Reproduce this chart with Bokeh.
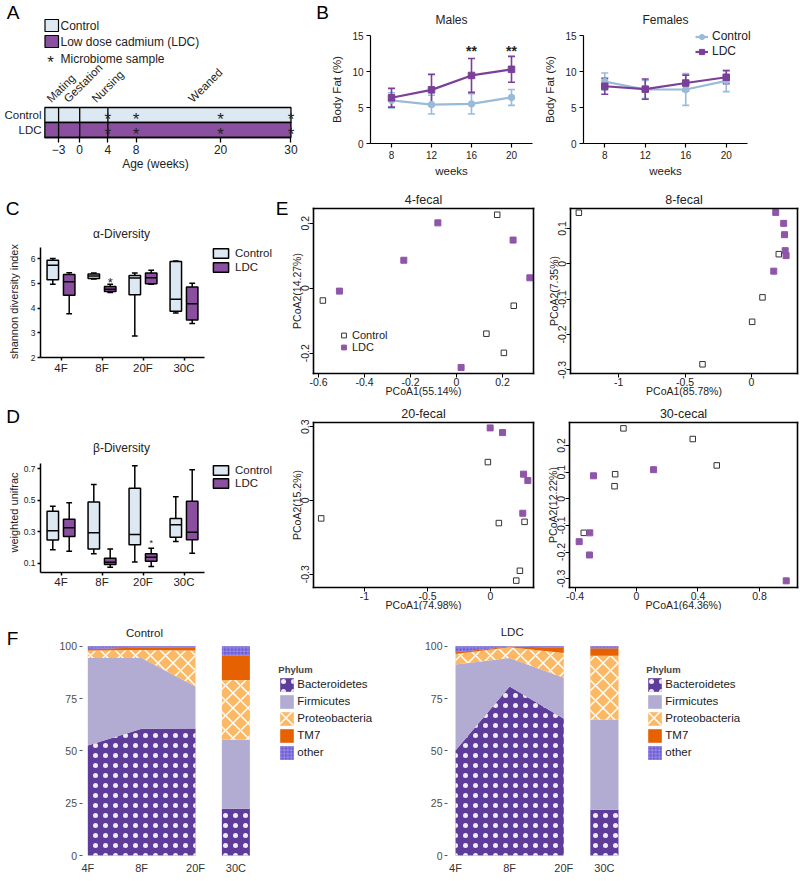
import numpy as np
from bokeh.plotting import figure
from bokeh.layouts import row, column
from bokeh.models import (Label, Legend, LegendItem, Whisker, TeeHead, ColumnDataSource,
                          LinearAxis, FixedTicker)
from bokeh.core.properties import value
from bokeh.embed import file_html
from bokeh.resources import INLINE

FONT = "Liberation Sans"
TXT = "#222222"
CTRL_FILL = "#dde9f2"
LDC_FILL = "#8b4f9f"
B_CTRL = "#98bbd8"
B_LDC = "#7a3f98"
E_LDC = "#8e55a8"

# ---------------- data ----------------
# A: study timeline
timeline_groups = ["Control", "LDC"]
timeline_start = -4.95
timeline_end = 30
age_ticks = [-3, 0, 4, 8, 20, 30]
phase_dividers = [-3, 0, 4]
phase_names = ["Mating", "Gestation", "Nursing", "Weaned"]
phase_start = [-4.4, -2.0, 2.0, 15.7]
sample_weeks = [4, 8, 20, 30]

# B: body fat (%), mean and error
weeks = [8, 12, 16, 20]
male_ctrl = [6.0, 5.4, 5.5, 6.4]
male_ctrl_err = [1.05, 1.3, 1.4, 1.1]
male_ldc = [6.35, 7.45, 9.45, 10.3]
male_ldc_err = [1.3, 2.15, 2.35, 1.8]
female_ctrl = [8.6, 7.5, 7.5, 8.7]
female_ctrl_err = [1.2, 1.25, 2.2, 1.5]
female_ldc = [7.95, 7.55, 8.4, 9.2]
female_ldc_err = [1.1, 1.4, 1.1, 0.9]
male_sig_weeks = [16, 20]
male_sig_level = 12.8

# C: alpha diversity box stats (low, q1, median, q3, high)
div_groups = ["4F", "8F", "20F", "30C"]
alpha_ctrl_low = [4.96, 5.18, 2.87, 3.80]
alpha_ctrl_q1 = [5.15, 5.20, 4.54, 3.87]
alpha_ctrl_med = [5.73, 5.30, 5.22, 4.36]
alpha_ctrl_q3 = [5.93, 5.38, 5.32, 5.88]
alpha_ctrl_high = [6.00, 5.42, 5.42, 5.90]
alpha_ldc_low = [3.77, 4.63, 4.96, 3.38]
alpha_ldc_q1 = [4.52, 4.67, 4.98, 3.52]
alpha_ldc_med = [5.06, 4.76, 5.23, 4.17]
alpha_ldc_q3 = [5.36, 4.87, 5.42, 4.85]
alpha_ldc_high = [5.43, 4.96, 5.53, 5.00]
alpha_sig_group = 2
alpha_sig_level = 5.15

# D: beta diversity box stats
beta_ctrl_low = [0.185, 0.160, 0.108, 0.238]
beta_ctrl_q1 = [0.248, 0.190, 0.218, 0.265]
beta_ctrl_med = [0.307, 0.293, 0.282, 0.345]
beta_ctrl_q3 = [0.430, 0.490, 0.576, 0.384]
beta_ctrl_high = [0.462, 0.600, 0.720, 0.523]
beta_ldc_low = [0.176, 0.075, 0.080, 0.163]
beta_ldc_q1 = [0.270, 0.092, 0.113, 0.250]
beta_ldc_med = [0.325, 0.106, 0.138, 0.297]
beta_ldc_q3 = [0.380, 0.132, 0.160, 0.494]
beta_ldc_high = [0.485, 0.190, 0.195, 0.695]
beta_sig_group = 3
beta_sig_level = 0.245

# E: PCoA coordinates
f4_ctrl_x = [0.177, -0.581, 0.249, 0.130, 0.206]
f4_ctrl_y = [0.226, -0.038, -0.054, -0.140, -0.199]
f4_ldc_x = [-0.081, 0.246, 0.319, -0.229, -0.509, 0.020]
f4_ldc_y = [0.201, 0.148, 0.032, 0.086, -0.009, -0.244]
f8_ctrl_x = [-1.301, 0.206, 0.083, 0.005, -0.369]
f8_ctrl_y = [0.144, 0.027, -0.095, -0.164, -0.284]
f8_ldc_x = [0.183, 0.243, 0.249, 0.254, 0.261, 0.168]
f8_ldc_y = [0.145, 0.114, 0.082, 0.037, 0.023, -0.021]
f20_ctrl_x = [-1.344, -0.021, 0.066, 0.270, 0.233, 0.204]
f20_ctrl_y = [-0.073, 0.156, -0.092, -0.087, -0.286, -0.326]
f20_ldc_x = [-0.003, 0.095, 0.262, 0.296, 0.256]
f20_ldc_y = [0.295, 0.276, 0.107, 0.081, -0.052]
c30_ctrl_x = [-0.085, 0.366, 0.522, -0.139, -0.143, -0.343]
c30_ctrl_y = [0.264, 0.224, 0.125, 0.092, 0.047, -0.128]
c30_ldc_x = [-0.280, 0.111, -0.304, -0.373, -0.306, 0.974]
c30_ldc_y = [0.086, 0.109, -0.128, -0.161, -0.211, -0.308]

# F: relative abundance (%) at 4F, 8F, 20F (fecal) and 30C (cecal)
phyla = ["Bacteroidetes", "Firmicutes", "Proteobacteria", "TM7", "other"]
sample_labels = ["4F", "8F", "20F", "30C"]
ctrl_bacteroidetes = [52.5, 60.5, 60.7, 22.3]
ctrl_firmicutes = [41.9, 33.9, 20.0, 33.0]
ctrl_proteobacteria = [3.5, 3.8, 17.2, 28.6]
ctrl_tm7 = [0.8, 1.2, 1.6, 11.6]
ctrl_other = [1.3, 0.6, 0.5, 4.5]
ldc_bacteroidetes = [50.2, 80.7, 65.3, 21.8]
ldc_firmicutes = [41.0, 13.7, 19.6, 43.0]
ldc_proteobacteria = [5.1, 5.1, 11.9, 30.6]
ldc_tm7 = [0.8, 0.3, 2.4, 3.6]
ldc_other = [2.9, 0.2, 0.8, 1.0]

PHYLUM_STYLE = {
    "Bacteroidetes": dict(fill_color="#5e3c99", hatch_pattern="dot", hatch_color="white",
                          hatch_scale=10, hatch_weight=0.5, hatch_alpha=0.9),
    "Firmicutes": dict(fill_color="#b2abd2"),
    "Proteobacteria": dict(fill_color="#fdb863", hatch_pattern="diagonal_cross", hatch_color="white",
                           hatch_scale=15, hatch_weight=1.5),
    "TM7": dict(fill_color="#e66101"),
    "other": dict(fill_color="#6a5acd", hatch_pattern="cross", hatch_color="#a196f2",
                  hatch_scale=3.5, hatch_weight=0.8),
}


# ---------------- helpers ----------------
class Panel:
    """A figure whose frame fills its whole canvas; axes sit at fixed data locations."""

    def __init__(self, canvas, inner, data):
        cx0, cy0, cx1, cy1 = canvas
        ix0, iy0, ix1, iy1 = inner
        dx0, dy0, dx1, dy1 = data
        self.cx0, self.cy1 = cx0, cy1
        self.ix0, self.iy1 = ix0, iy1
        self.dx0, self.dy0, self.dx1, self.dy1 = dx0, dy0, dx1, dy1
        self.kx = (ix1 - ix0) / (dx1 - dx0)
        self.ky = (iy1 - iy0) / (dy1 - dy0)
        xr = (dx0 - (ix0 - cx0) / self.kx, dx1 + (cx1 - ix1) / self.kx)
        yr = (dy0 - (cy1 - iy1) / self.ky, dy1 + (iy0 - cy0) / self.ky)
        p = figure(width=int(round(cx1 - cx0)), height=int(round(cy1 - cy0)), x_range=xr,
                   y_range=yr, output_backend="svg", toolbar_location=None, min_border=0)
        p.grid.visible = False
        p.outline_line_color = None
        p.background_fill_color = "white"
        p.border_fill_color = "white"
        p.xaxis.fixed_location = dy0
        p.xaxis.bounds = (dx0, dx1)
        p.yaxis.fixed_location = dx0
        p.yaxis.bounds = (dy0, dy1)
        self.p = p

    def X(self, sx):
        return self.dx0 + (sx - self.ix0) / self.kx

    def Y(self, sy):
        return self.dy0 + (self.iy1 - sy) / self.ky

    def label(self, sx, sy, text, size, align="center", baseline="middle", angle=0.0,
              style="normal", color=TXT):
        self.p.add_layout(Label(x=sx - self.cx0, y=self.cy1 - sy, x_units="screen",
                                y_units="screen", text=text, text_font=FONT,
                                text_font_size=size, text_align=align, text_baseline=baseline,
                                angle=angle, text_font_style=style, text_color=color))

    def legend(self, items, sx_left, sy_top, height, gw, gh, lh, font, standoff=4,
               spacing=0, title=None):
        lg = Legend(items=items, location=(sx_left - self.cx0, self.cy1 - (sy_top + height)),
                    glyph_width=int(gw), glyph_height=int(gh), label_height=int(lh),
                    label_width=10, label_text_font=FONT, label_text_font_size=font,
                    label_text_color=TXT, label_standoff=int(standoff), spacing=int(spacing),
                    padding=0, margin=0, border_line_color=None, background_fill_alpha=0)
        if title:
            lg.title = title
            lg.title_text_font = FONT
            lg.title_text_font_style = "bold"
            lg.title_text_font_size = "9.5px"
            lg.title_standoff = 1
        self.p.add_layout(lg)


def style_axis(ax, tick_font, color=TXT, tick_out=4, standoff=2, line_width=1.0,
               line_color="black", tick_color="black"):
    ax.major_label_text_font = FONT
    ax.major_label_text_font_size = tick_font
    ax.major_label_text_color = color
    ax.minor_tick_line_color = None
    ax.major_tick_in = 0
    ax.major_tick_out = tick_out
    ax.major_label_standoff = standoff
    ax.axis_line_color = line_color
    ax.axis_line_width = line_width
    ax.major_tick_line_color = tick_color
    ax.major_tick_line_width = line_width


def fmt_overrides(ticks):
    return {t: f"{t:g}" for t in ticks}


# ---------------- A ----------------
A = Panel((0, 0, 330, 190), (44, 107, 294, 137), (-5, 0, 30.5, 2))
pA = A.p
pA.yaxis.visible = False
pA.xaxis.bounds = (timeline_start, timeline_end)
pA.xaxis.ticker = age_ticks
style_axis(pA.xaxis[0], "12px", tick_out=5, standoff=2, line_width=1.3)
n_g = len(timeline_groups)
row_y = [n_g - i - 0.5 for i in range(n_g)]
pA.hbar(y=row_y, left=timeline_start, right=timeline_end, height=1,
        fill_color=[CTRL_FILL, LDC_FILL], line_color="black", line_width=1.3)
pA.segment(x0=phase_dividers, y0=0, x1=phase_dividers, y1=n_g, line_color="black",
           line_width=1.3)
ax_x = [w for _ in row_y for w in sample_weeks]
ax_y = [y for y in row_y for _ in sample_weeks]
pA.text(x=ax_x, y=ax_y, text=["*"] * len(ax_x), text_font=value(FONT), text_font_size="17px",
        text_align="center", text_baseline="middle", y_offset=4, text_color=TXT)
pA.text(x=phase_start, y=[A.Y(100)] * len(phase_start), text=phase_names, angle=np.pi / 4,
        text_font=value(FONT), text_font_size="11.5px", text_align="left",
        text_baseline="alphabetic", text_color=TXT)
for gi, g in enumerate(timeline_groups):
    A.label(41, 137 - 15 * row_y[gi] - 0.5, g, "11.5px", align="right")
pA.quad(left=[A.X(44.5)] * 2, right=[A.X(58)] * 2, bottom=[A.Y(31), A.Y(47)],
        top=[A.Y(19), A.Y(35)], fill_color=[CTRL_FILL, LDC_FILL], line_color="black",
        line_width=1.2)
A.label(60, 25, "Control", "12px", align="left")
A.label(60, 41, "Low dose cadmium (LDC)", "12px", align="left")
A.label(60, 58, "Microbiome sample", "12px", align="left")
A.label(50, 62, "*", "17px")
A.label(155, 163, "Age (weeks)", "12px")
A.label(12.7, 12, "A", "19px", color="black")
A.label(322, 12, "B", "19px", color="black")


# ---------------- B ----------------
def bodyfat(canvas, inner, ctrl, cerr, ldc, lerr, title):
    P = Panel(canvas, inner, (5.9, 0, 22.1, 15))
    p = P.p
    p.xaxis.ticker = weeks
    p.yaxis.ticker = [0, 5, 10, 15]
    for ax in p.axis:
        style_axis(ax, "10px", tick_out=4, standoff=3, line_width=1.2)
    rends = []
    for vals, err, color, marker in [(ctrl, cerr, B_CTRL, "circle"), (ldc, lerr, B_LDC, "square")]:
        v = np.array(vals)
        e = np.array(err)
        src = ColumnDataSource(dict(x=weeks, y=v, lo=v - e, hi=v + e))
        p.add_layout(Whisker(source=src, base="x", lower="lo", upper="hi", line_color=color,
                             line_width=1.6,
                             lower_head=TeeHead(size=7, line_color=color, line_width=1.6),
                             upper_head=TeeHead(size=7, line_color=color, line_width=1.6)))
        ln = p.line("x", "y", source=src, line_color=color, line_width=2.2)
        mk = p.scatter("x", "y", source=src, marker=marker, size=6.5, fill_color=color,
                       line_color=color)
        rends.append((ln, mk))
    xc = (inner[0] + inner[2]) / 2
    P.label(xc, 19, title, "12px")
    P.label(xc, 170, "weeks", "11.5px")
    P.label(inner[0] - 33.5, (inner[1] + inner[3]) / 2, "Body Fat (%)", "11.5px",
            angle=np.pi / 2)
    return P, rends


Bm, _ = bodyfat((330, 0, 545, 190), (370, 35, 532, 143), male_ctrl, male_ctrl_err, male_ldc,
                male_ldc_err, "Males")
Bm.p.text(x=male_sig_weeks, y=[male_sig_level] * len(male_sig_weeks),
          text=["**"] * len(male_sig_weeks), text_font=value(FONT), text_font_size="14px",
          text_font_style="bold", text_align="center", text_baseline="middle", text_color=TXT)
Bf, rf = bodyfat((545, 0, 800, 190), (583, 35, 747, 143), female_ctrl, female_ctrl_err,
                 female_ldc, female_ldc_err, "Females")
Bf.legend([LegendItem(label="Control", renderers=list(rf[0])),
           LegendItem(label="LDC", renderers=list(rf[1]))],
          695, 28.5, 30, 13, 15, 15, "12px", standoff=4)


# ---------------- C / D ----------------
def box_panel(canvas, inner, yr, yticks, ylabel, title, stats_c, stats_l, sig_g, sig_y,
              sig_size, letter, letter_xy, title_y, ylabel_y, legend_top, pitch):
    P = Panel(canvas, inner, (0.5, yr[0], 4.5, yr[1]))
    p = P.p
    gx = np.arange(1, len(div_groups) + 1)
    p.xaxis.ticker = [int(g) for g in gx]
    p.xaxis.major_label_overrides = {int(g): lab for g, lab in zip(gx, div_groups)}
    p.yaxis.ticker = yticks
    style_axis(p.xaxis[0], "11.5px", tick_out=3, standoff=1, line_width=1.5)
    style_axis(p.yaxis[0], "8.5px", tick_out=3, standoff=2, line_width=1.5)
    rs = []
    for off, st, fill in [(-0.2, stats_c, CTRL_FILL), (0.2, stats_l, LDC_FILL)]:
        low, q1, med, q3, high = [np.array(s) for s in st]
        x = gx + off
        kw = dict(line_color="black", line_width=1.5)
        p.segment(x0=x, y0=low, x1=x, y1=q1, **kw)
        p.segment(x0=x, y0=q3, x1=x, y1=high, **kw)
        p.segment(x0=x - 0.07, y0=low, x1=x + 0.07, y1=low, **kw)
        p.segment(x0=x - 0.07, y0=high, x1=x + 0.07, y1=high, **kw)
        r = p.vbar(x=x, bottom=q1, top=q3, width=0.28, fill_color=fill, **kw)
        p.segment(x0=x - 0.14, y0=med, x1=x + 0.14, y1=med, **kw)
        rs.append(r)
    p.text(x=[sig_g + 0.2], y=[sig_y], text=["*"], text_font=value(FONT),
           text_font_size=sig_size, text_align="center", text_baseline="middle", y_offset=3,
           text_color=TXT)
    P.legend([LegendItem(label="Control", renderers=[rs[0]]),
              LegendItem(label="LDC", renderers=[rs[1]])],
             211, legend_top, 2 * pitch, 19, 12, pitch, "11.5px", standoff=5)
    P.label(letter_xy[0], letter_xy[1], letter, "19px", color="black")
    P.label(121, title_y, title, "12px")
    P.label(13.5, ylabel_y, ylabel, "11px", angle=np.pi / 2)
    return P


C = box_panel((0, 190, 275, 400), (40, 247, 204, 357), (2, 6.45), [2, 3, 4, 5, 6],
              "shannon diversity index", "α-Diversity",
              [alpha_ctrl_low, alpha_ctrl_q1, alpha_ctrl_med, alpha_ctrl_q3, alpha_ctrl_high],
              [alpha_ldc_low, alpha_ldc_q1, alpha_ldc_med, alpha_ldc_q3, alpha_ldc_high],
              alpha_sig_group, alpha_sig_level, "13px", "C", (12, 208), 233, 301, 246, 14)
D = box_panel((0, 400, 275, 610), (40, 463, 204, 571.7), (0.043, 0.734), [0.1, 0.3, 0.5, 0.7],
              "weighted unifrac", "β-Diversity",
              [beta_ctrl_low, beta_ctrl_q1, beta_ctrl_med, beta_ctrl_q3, beta_ctrl_high],
              [beta_ldc_low, beta_ldc_q1, beta_ldc_med, beta_ldc_q3, beta_ldc_high],
              beta_sig_group, beta_sig_level, "9px", "D", (12.5, 416), 447, 512, 463.5, 13)


# ---------------- E ----------------
def pcoa(canvas, inner, data, xt, yt, xlabel, ylabel, title, cx, cy, lx, ly):
    P = Panel(canvas, inner, data)
    p = P.p
    dx0, dy0, dx1, dy1 = data
    p.xaxis.ticker = xt
    p.yaxis.ticker = yt
    p.xaxis.major_label_overrides = fmt_overrides(xt)
    p.yaxis.major_label_overrides = fmt_overrides(yt)
    for ax in p.axis:
        style_axis(ax, "10.5px", tick_out=4, standoff=0, line_width=1.6)
        ax.axis_line_cap = "square"
        ax.major_tick_line_width = 1.0
    p.yaxis.major_label_orientation = "vertical"
    p.add_layout(LinearAxis(fixed_location=dx1, bounds=(dy0, dy1), ticker=FixedTicker(ticks=[]),
                            axis_line_width=1.6, axis_line_cap="square",
                            major_tick_line_color=None, minor_tick_line_color=None), "right")
    p.add_layout(LinearAxis(fixed_location=dy1, bounds=(dx0, dx1), ticker=FixedTicker(ticks=[]),
                            axis_line_width=1.6, axis_line_cap="square",
                            major_tick_line_color=None, minor_tick_line_color=None), "above")
    rc = p.scatter(cx, cy, marker="square", size=5.5, fill_color=None, line_color="#333333",
                   line_width=1)
    rl = p.scatter(lx, ly, marker="square", size=6, fill_color=E_LDC, line_color=E_LDC)
    xc = (inner[0] + inner[2]) / 2
    yc = (inner[1] + inner[3]) / 2
    P.label(xc, inner[1] - 9, title, "12.5px")
    P.label(xc, inner[3] + 17, xlabel, "10.5px")
    P.label(inner[0] - 16.5, yc, ylabel, "10.5px", angle=np.pi / 2)
    return P, rc, rl


E1, e1c, e1l = pcoa((275, 190, 535, 398), (313, 208, 533, 373),
                    (-0.6217, -0.2625, 0.3348, 0.2452), [-0.6, -0.4, -0.2, 0, 0.2],
                    [-0.2, 0, 0.2], "PCoA1(55.14%)", "PCoA2(14.27%)", "4-fecal",
                    f4_ctrl_x, f4_ctrl_y, f4_ldc_x, f4_ldc_y)
E1.label(281.5, 207.5, "E", "19px", color="black")
E1.legend([LegendItem(label="Control", renderers=[e1c]),
           LegendItem(label="LDC", renderers=[e1l])],
          337, 328.7, 24, 13, 12, 12, "11px", standoff=2)
E2, _, _ = pcoa((535, 190, 800, 398), (570, 208, 797, 373), (-1.364, -0.31, 0.347, 0.156),
                [-1, -0.5, 0], [-0.3, -0.2, -0.1, 0, 0.1], "PCoA1(85.78%)", "PCoA2(7.35%)",
                "8-fecal", f8_ctrl_x, f8_ctrl_y, f8_ldc_x, f8_ldc_y)
E3, _, _ = pcoa((275, 398, 535, 610), (313, 422, 533, 587), (-1.405, -0.354, 0.341, 0.317),
                [-1, -0.5, 0], [-0.3, 0, 0.3], "PCoA1(74.98%)", "PCoA2(15.2%)",
                "20-fecal", f20_ctrl_x, f20_ctrl_y, f20_ldc_x, f20_ldc_y)
E4, _, _ = pcoa((535, 398, 800, 610), (569, 422, 797, 587), (-0.436, -0.333, 1.0475, 0.286),
                [-0.4, 0, 0.4, 0.8], [-0.3, -0.2, -0.1, 0, 0.1, 0.2], "PCoA1(64.36%)",
                "PCoA2(12.22%)", "30-cecal", c30_ctrl_x, c30_ctrl_y, c30_ldc_x, c30_ldc_y)


# ---------------- F ----------------
AREA_X = [1, 2, 3]
BAR_X = 3.75
BAR_W = 0.52


def phylum_panel(canvas, inner, x_axis_at, series, title, title_xy, legend_left, letter=None):
    P = Panel(canvas, inner, (x_axis_at, 0, 3, 100))
    p = P.p
    ticks = AREA_X + [BAR_X]
    p.xaxis.bounds = (x_axis_at, BAR_X + 0.5)
    p.xaxis.ticker = ticks
    p.xaxis.major_label_overrides = {t: lab for t, lab in zip(ticks, sample_labels)}
    p.yaxis.ticker = [0, 25, 50, 75, 100]
    style_axis(p.xaxis[0], "11px", color="#333333", tick_out=0, standoff=6, line_color=None,
               tick_color=None)
    style_axis(p.yaxis[0], "10.5px", color="#4d4d4d", tick_out=3, standoff=2, line_color=None,
               tick_color="#555555")
    cum = np.zeros(len(AREA_X))
    cumb = 0.0
    items = []
    for name, vals in zip(phyla, series):
        vals = np.array(vals, dtype=float)
        area, bar = vals[:len(AREA_X)], vals[len(AREA_X)]
        st = PHYLUM_STYLE[name]
        r = p.varea(x=AREA_X, y1=cum, y2=cum + area, **st)
        p.vbar(x=[BAR_X], bottom=[cumb], top=[cumb + bar], width=BAR_W, line_color=None, **st)
        cum = cum + area
        cumb += bar
        items.append(LegendItem(label=name, renderers=[r]))
    P.legend(items, legend_left, 663.5, 97, 17, 17, 17, "11.5px", standoff=2, title="Phylum")
    P.label(title_xy[0], title_xy[1], title, "11.5px")
    if letter:
        P.label(12, 638, letter, "19px", color="black")
    return P


F1 = phylum_panel((0, 610, 400, 880), (81.5, 645.7, 195, 855), 0.892,
                  [ctrl_bacteroidetes, ctrl_firmicutes, ctrl_proteobacteria, ctrl_tm7, ctrl_other],
                  "Control", (144, 632), 278.3, "F")
F2 = phylum_panel((400, 610, 800, 880), (447, 645.7, 563.3, 855), 0.852,
                  [ldc_bacteroidetes, ldc_firmicutes, ldc_proteobacteria, ldc_tm7, ldc_other],
                  "LDC", (511.7, 631.7), 646.3)

layout = column(
    row(pA, Bm.p, Bf.p, spacing=0),
    row(column(C.p, D.p, spacing=0),
        column(row(E1.p, E2.p, spacing=0), row(E3.p, E4.p, spacing=0), spacing=0), spacing=0),
    row(F1.p, F2.p, spacing=0),
    spacing=0,
)

open("out.html", "w").write(file_html(layout, INLINE))
